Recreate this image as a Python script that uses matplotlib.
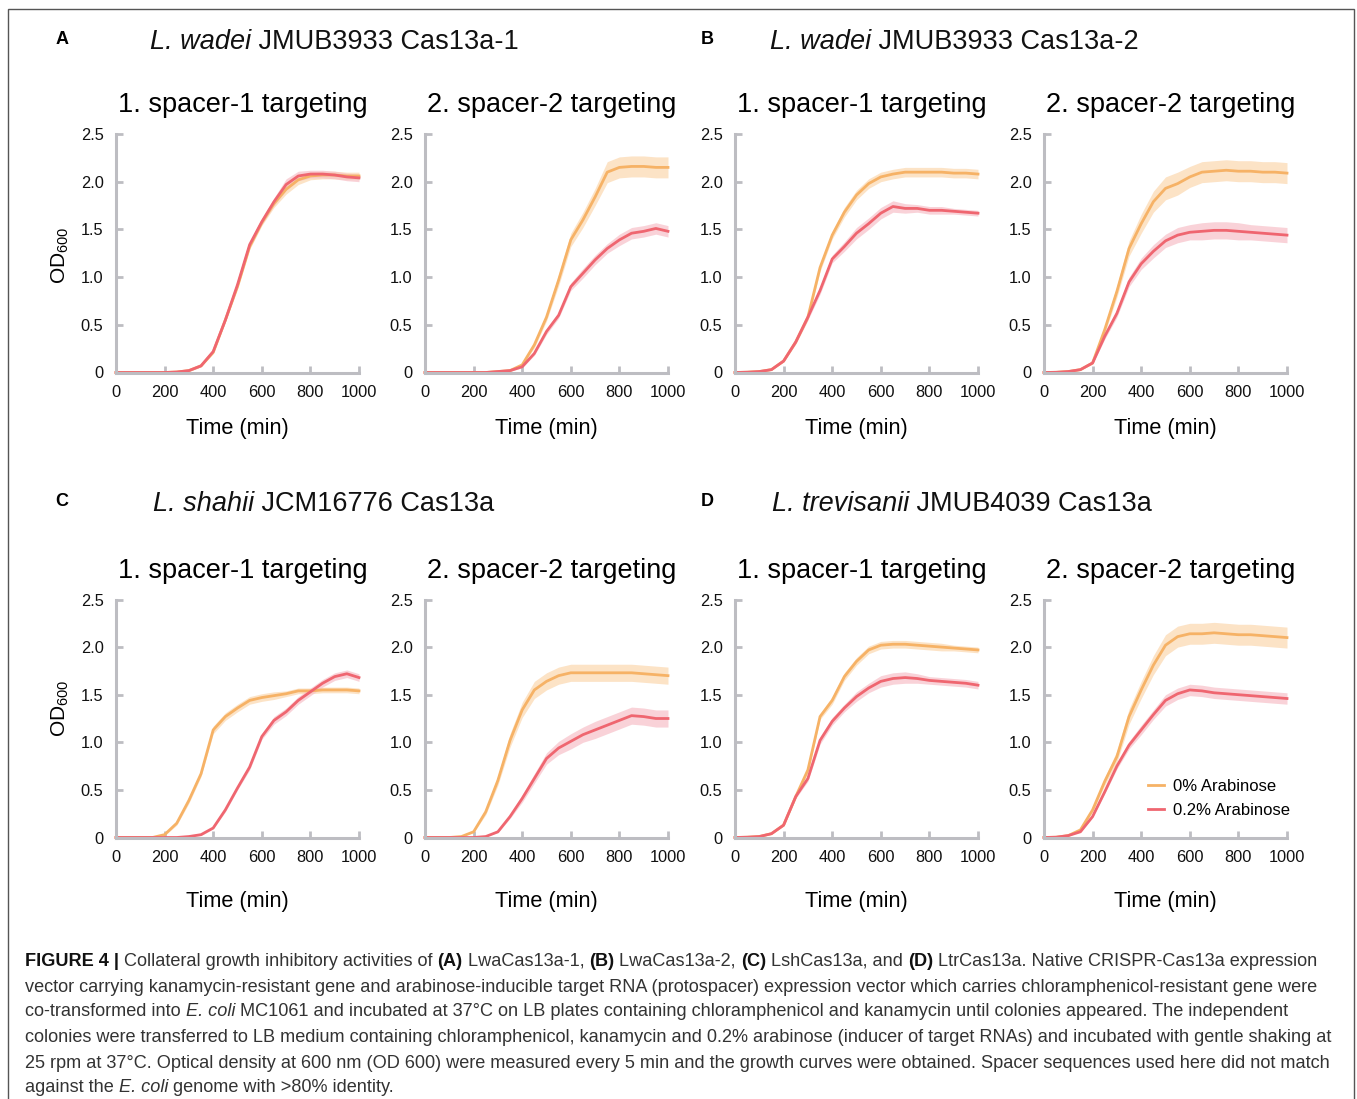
import numpy as np
import matplotlib
matplotlib.use("Agg")
import matplotlib.pyplot as plt
from matplotlib import font_manager
from matplotlib.patches import Rectangle

W, H = 1357, 1099

plt.rcParams["font.family"] = ["Liberation Sans", "DejaVu Sans"]
plt.rcParams["mathtext.fontset"] = "custom"
plt.rcParams["mathtext.rm"] = "Liberation Sans"
plt.rcParams["mathtext.it"] = "Liberation Sans:italic"
plt.rcParams["mathtext.bf"] = "Liberation Sans:bold"

# time points (min)
TIME = [0, 50, 100, 150, 200, 250, 300, 350, 400, 450, 500,
        550, 600, 650, 700, 750, 800, 850, 900, 950, 1000]

# OD600 means, 0% arabinose / 0.2% arabinose, and their SD bands
A1_0 = [0, 0, 0, 0, 0, 0.005, 0.02, 0.07, 0.21, 0.55, 0.9, 1.32, 1.57, 1.77, 1.92, 2.02, 2.06, 2.07, 2.07, 2.06, 2.06]
A1_02 = [0, 0, 0, 0, 0, 0.005, 0.02, 0.07, 0.22, 0.55, 0.92, 1.34, 1.58, 1.79, 1.97, 2.06, 2.08, 2.08, 2.07, 2.05, 2.04]
A2_0 = [0, 0, 0, 0, 0, 0, 0.01, 0.02, 0.08, 0.29, 0.58, 0.97, 1.39, 1.6, 1.84, 2.1, 2.15, 2.16, 2.16, 2.15, 2.15]
A2_02 = [0, 0, 0, 0, 0, 0, 0.01, 0.02, 0.06, 0.2, 0.43, 0.6, 0.9, 1.04, 1.18, 1.3, 1.39, 1.46, 1.48, 1.51, 1.48]
B1_0 = [0, 0.003, 0.01, 0.03, 0.12, 0.32, 0.58, 1.1, 1.44, 1.68, 1.86, 1.98, 2.05, 2.08, 2.1, 2.1, 2.1, 2.1, 2.09, 2.09, 2.08]
B1_02 = [0, 0.003, 0.01, 0.03, 0.12, 0.32, 0.58, 0.86, 1.19, 1.32, 1.46, 1.56, 1.67, 1.74, 1.72, 1.72, 1.7, 1.7, 1.69, 1.68, 1.67]
B2_0 = [0, 0.002, 0.01, 0.03, 0.1, 0.45, 0.85, 1.3, 1.56, 1.79, 1.93, 1.98, 2.05, 2.1, 2.11, 2.12, 2.11, 2.11, 2.1, 2.1, 2.09]
B2_02 = [0, 0.002, 0.01, 0.03, 0.1, 0.38, 0.62, 0.95, 1.14, 1.27, 1.38, 1.44, 1.47, 1.48, 1.49, 1.49, 1.48, 1.47, 1.46, 1.45, 1.44]
C1_0 = [0, 0, 0, 0, 0.03, 0.15, 0.39, 0.67, 1.13, 1.27, 1.36, 1.44, 1.47, 1.49, 1.51, 1.54, 1.54, 1.55, 1.55, 1.55, 1.54]
C1_02 = [0, 0, 0, 0, 0, 0, 0.01, 0.03, 0.1, 0.29, 0.52, 0.74, 1.06, 1.23, 1.32, 1.44, 1.53, 1.62, 1.69, 1.72, 1.68]
C2_0 = [0, 0, 0, 0.01, 0.06, 0.27, 0.6, 1.02, 1.34, 1.55, 1.64, 1.7, 1.73, 1.73, 1.73, 1.73, 1.73, 1.73, 1.72, 1.71, 1.7]
C2_02 = [0, 0, 0, 0, 0, 0.01, 0.06, 0.22, 0.41, 0.62, 0.83, 0.94, 1.01, 1.08, 1.13, 1.18, 1.23, 1.28, 1.27, 1.25, 1.25]
D1_0 = [0, 0.003, 0.01, 0.04, 0.13, 0.43, 0.71, 1.27, 1.44, 1.69, 1.85, 1.97, 2.02, 2.03, 2.03, 2.02, 2.01, 2.0, 1.99, 1.98, 1.97]
D1_02 = [0, 0.003, 0.01, 0.04, 0.13, 0.43, 0.62, 1.02, 1.22, 1.36, 1.48, 1.57, 1.64, 1.67, 1.68, 1.67, 1.65, 1.64, 1.63, 1.62, 1.6]
D2_0 = [0, 0.003, 0.02, 0.08, 0.29, 0.59, 0.85, 1.27, 1.55, 1.81, 2.02, 2.11, 2.14, 2.14, 2.15, 2.14, 2.13, 2.13, 2.12, 2.11, 2.1]
D2_02 = [0, 0.003, 0.02, 0.06, 0.22, 0.48, 0.75, 0.97, 1.13, 1.29, 1.44, 1.51, 1.55, 1.54, 1.52, 1.51, 1.5, 1.49, 1.48, 1.47, 1.46]

A1_0_SD = [0, 0, 0, 0, 0, 0, 0.01, 0.01, 0.01, 0.02, 0.02, 0.03, 0.03, 0.04, 0.05, 0.05, 0.04, 0.04, 0.04, 0.04, 0.04]
A1_02_SD = [0, 0, 0, 0, 0, 0, 0.01, 0.01, 0.01, 0.02, 0.02, 0.03, 0.03, 0.04, 0.06, 0.05, 0.04, 0.04, 0.04, 0.04, 0.04]
A2_0_SD = [0, 0, 0, 0, 0, 0, 0, 0.01, 0.01, 0.03, 0.04, 0.06, 0.07, 0.08, 0.09, 0.11, 0.11, 0.11, 0.11, 0.11, 0.11]
A2_02_SD = [0, 0, 0, 0, 0, 0, 0, 0.01, 0.01, 0.02, 0.03, 0.03, 0.04, 0.05, 0.05, 0.05, 0.06, 0.06, 0.06, 0.06, 0.06]
B1_0_SD = [0, 0, 0, 0, 0.01, 0.02, 0.03, 0.04, 0.04, 0.05, 0.05, 0.05, 0.05, 0.05, 0.05, 0.05, 0.05, 0.05, 0.05, 0.05, 0.05]
B1_02_SD = [0, 0, 0, 0, 0.01, 0.02, 0.03, 0.04, 0.04, 0.05, 0.06, 0.06, 0.06, 0.06, 0.05, 0.04, 0.04, 0.04, 0.03, 0.03, 0.03]
B2_0_SD = [0, 0, 0, 0, 0.01, 0.04, 0.06, 0.08, 0.1, 0.11, 0.12, 0.12, 0.11, 0.11, 0.11, 0.11, 0.11, 0.11, 0.11, 0.11, 0.11]
B2_02_SD = [0, 0, 0, 0, 0.01, 0.03, 0.04, 0.05, 0.06, 0.07, 0.07, 0.08, 0.08, 0.09, 0.09, 0.09, 0.09, 0.08, 0.08, 0.08, 0.08]
C1_0_SD = [0, 0, 0, 0, 0.01, 0.02, 0.03, 0.03, 0.04, 0.04, 0.04, 0.04, 0.04, 0.04, 0.03, 0.03, 0.03, 0.03, 0.03, 0.03, 0.03]
C1_02_SD = [0, 0, 0, 0, 0, 0, 0, 0.01, 0.01, 0.02, 0.02, 0.03, 0.03, 0.04, 0.04, 0.04, 0.04, 0.04, 0.04, 0.04, 0.04]
C2_0_SD = [0, 0, 0, 0, 0.01, 0.03, 0.05, 0.07, 0.08, 0.09, 0.09, 0.09, 0.09, 0.09, 0.09, 0.09, 0.09, 0.09, 0.09, 0.09, 0.09]
C2_02_SD = [0, 0, 0, 0, 0, 0, 0.01, 0.02, 0.04, 0.05, 0.06, 0.07, 0.08, 0.08, 0.09, 0.09, 0.09, 0.09, 0.09, 0.09, 0.09]
D1_0_SD = [0, 0, 0, 0, 0.01, 0.02, 0.03, 0.03, 0.04, 0.04, 0.04, 0.04, 0.04, 0.04, 0.04, 0.04, 0.04, 0.04, 0.03, 0.03, 0.03]
D1_02_SD = [0, 0, 0, 0, 0.01, 0.02, 0.03, 0.04, 0.04, 0.04, 0.05, 0.05, 0.06, 0.06, 0.06, 0.05, 0.04, 0.04, 0.04, 0.04, 0.04]
D2_0_SD = [0, 0, 0, 0, 0.02, 0.04, 0.06, 0.08, 0.09, 0.1, 0.11, 0.11, 0.11, 0.11, 0.11, 0.11, 0.11, 0.11, 0.11, 0.11, 0.11]
D2_02_SD = [0, 0, 0, 0, 0.01, 0.02, 0.03, 0.04, 0.05, 0.05, 0.06, 0.06, 0.06, 0.06, 0.06, 0.06, 0.06, 0.06, 0.06, 0.06, 0.06]

SUBTITLES = ["1. spacer-1 targeting", "2. spacer-2 targeting"]
LEGEND_LABELS = ["0% Arabinose", "0.2% Arabinose"]
X_TICKS = [0, 200, 400, 600, 800, 1000]
Y_TICKS = [0, 0.5, 1.0, 1.5, 2.0, 2.5]
Y_TICKLABELS = ["0", "0.5", "1.0", "1.5", "2.0", "2.5"]

# (row, col, means/sd 0%, means/sd 0.2%)
PANELS = [
    (0, 0, A1_0, A1_0_SD, A1_02, A1_02_SD),
    (0, 1, A2_0, A2_0_SD, A2_02, A2_02_SD),
    (0, 2, B1_0, B1_0_SD, B1_02, B1_02_SD),
    (0, 3, B2_0, B2_0_SD, B2_02, B2_02_SD),
    (1, 0, C1_0, C1_0_SD, C1_02, C1_02_SD),
    (1, 1, C2_0, C2_0_SD, C2_02, C2_02_SD),
    (1, 2, D1_0, D1_0_SD, D1_02, D1_02_SD),
    (1, 3, D2_0, D2_0_SD, D2_02, D2_02_SD),
]

ORANGE, ORANGE_BAND = "#f6b266", "#fcdcb8"
RED, RED_BAND = "#ef6670", "#f7c0c8"
GREY = "#bdbdc2"

COL_X = [116, 425, 735, 1044]
AX_W = 243
ROWS = [(134, 372.5), (599.5, 837.5)]

fig = plt.figure(figsize=(W / 100, H / 100), dpi=100)
renderer = fig.canvas.get_renderer()

names = {f.name for f in font_manager.fontManager.ttflist}
CAP_FONT = "Liberation Sans Narrow" if "Liberation Sans Narrow" in names else "Liberation Sans"


def text_width(s, size, weight="normal", style="normal", family="Liberation Sans"):
    # measure with sentinels so leading/trailing spaces count
    t = fig.text(0, 0, "|" + s + "|", fontsize=size, fontweight=weight, fontstyle=style, family=family)
    w1 = t.get_window_extent(renderer).width
    t.set_text("||")
    w2 = t.get_window_extent(renderer).width
    t.remove()
    return w1 - w2


def rich_line(x_px, y_px, parts, size, family, color="#222222"):
    x = x_px
    for s, st in parts:
        weight = "bold" if "b" in st else "normal"
        style = "italic" if "i" in st else "normal"
        fig.text(x / W, 1 - y_px / H, s, fontsize=size, fontweight=weight, fontstyle=style,
                 family=family, color="#111111" if "b" in st else color, ha="left", va="center")
        x += text_width(s, size, weight, style, family)


for row, col, m0, s0, m2, s2 in PANELS:
    ytop, ybot = ROWS[row]
    ax = fig.add_axes([COL_X[col] / W, 1 - ybot / H, AX_W / W, (ybot - ytop) / H])
    t = np.array(TIME)
    a, sa = np.array(m0), np.array(s0)
    b, sb = np.array(m2), np.array(s2)
    ax.fill_between(t, a - sa, a + sa, color=ORANGE_BAND, lw=0, alpha=0.8)
    ax.fill_between(t, b - sb, b + sb, color=RED_BAND, lw=0, alpha=0.7)
    l0, = ax.plot(t, a, color=ORANGE, lw=2, clip_on=False)
    l2, = ax.plot(t, b, color=RED, lw=2, clip_on=False)

    ax.set_xlim(0, 1000)
    ax.set_ylim(0, 2.5)
    ax.set_xticks(X_TICKS)
    ax.set_yticks(Y_TICKS)
    ax.set_yticklabels(Y_TICKLABELS)
    for side in ["top", "right"]:
        ax.spines[side].set_visible(False)
    for side in ["left", "bottom"]:
        ax.spines[side].set_color(GREY)
        ax.spines[side].set_linewidth(2.2)
    ax.tick_params(direction="in", length=5, width=2, color=GREY, labelsize=11.8,
                   pad=9, labelcolor="#111111")
    ax.patch.set_alpha(0)

    ax.text(0.52, 1.12, SUBTITLES[col % 2], transform=ax.transAxes, ha="center",
            va="center", fontsize=19.5)
    ax.text(0.5, -0.233 if row == 0 else -0.267, "Time (min)", transform=ax.transAxes,
            ha="center", va="center", fontsize=15.7)
    if col == 0:
        ax.text(-0.23, 0.49 if row == 0 else 0.544, "OD$_{600}$", transform=ax.transAxes,
                rotation=90, ha="center", va="center", fontsize=15)
    if row == 1 and col == 3:
        ax.legend([l0, l2], LEGEND_LABELS, loc="upper left", bbox_to_anchor=(0.428, 0.245),
                  frameon=False, fontsize=12, handlelength=0.95, handletextpad=0.55,
                  borderpad=0, borderaxespad=0, labelspacing=0.5)

# panel letters and headings
HEADINGS = [
    ("A", 62, 40, 150, [("L. wadei", "i"), (" JMUB3933 Cas13a-1", "")]),
    ("B", 707, 40, 770, [("L. wadei", "i"), (" JMUB3933 Cas13a-2", "")]),
    ("C", 62, 502, 153, [("L. shahii", "i"), (" JCM16776 Cas13a", "")]),
    ("D", 707, 502, 772, [("L. trevisanii", "i"), (" JMUB4039 Cas13a", "")]),
]
for letter, lx, ly, tx, parts in HEADINGS:
    fig.text(lx / W, 1 - ly / H, letter, fontsize=13, fontweight="bold", ha="center", va="center")
    rich_line(tx, ly + 2, parts, 19.5, "Liberation Sans", color="#111111")

# caption
CAPTION = [
    [("FIGURE 4 |", "b"), (" Collateral growth inhibitory activities of ", ""), ("(A)", "b"),
     (" LwaCas13a-1, ", ""), ("(B)", "b"), (" LwaCas13a-2, ", ""), ("(C)", "b"),
     (" LshCas13a, and ", ""), ("(D)", "b"), (" LtrCas13a. Native CRISPR-Cas13a expression", "")],
    [("vector carrying kanamycin-resistant gene and arabinose-inducible target RNA (protospacer) "
      "expression vector which carries chloramphenicol-resistant gene were", "")],
    [("co-transformed into ", ""), ("E. coli", "i"),
     (" MC1061 and incubated at 37°C on LB plates containing chloramphenicol and kanamycin "
      "until colonies appeared. The independent", "")],
    [("colonies were transferred to LB medium containing chloramphenicol, kanamycin and 0.2% "
      "arabinose (inducer of target RNAs) and incubated with gentle shaking at", "")],
    [("25 rpm at 37°C. Optical density at 600 nm (OD 600) were measured every 5 min and the "
      "growth curves were obtained. Spacer sequences used here did not match", "")],
    [("against the ", ""), ("E. coli", "i"), (" genome with >80% identity.", "")],
]
CAPTION_Y = [960, 986, 1011, 1037, 1062, 1087]

base = 13.5
w_line = sum(text_width(s, base, "bold" if "b" in st else "normal",
                        "italic" if "i" in st else "normal", CAP_FONT) for s, st in CAPTION[0])
cap_size = base * 1290 / w_line
for parts, y in zip(CAPTION, CAPTION_Y):
    rich_line(25, y + 1, parts, cap_size, CAP_FONT, color="#333333")

# frame around the figure
fig.add_artist(Rectangle((8 / W, -0.01), (1354 - 8) / W, 1.01 - 9 / H, transform=fig.transFigure,
                         fill=False, ec="#555555", lw=1))

fig.savefig("out.png", dpi=100)
